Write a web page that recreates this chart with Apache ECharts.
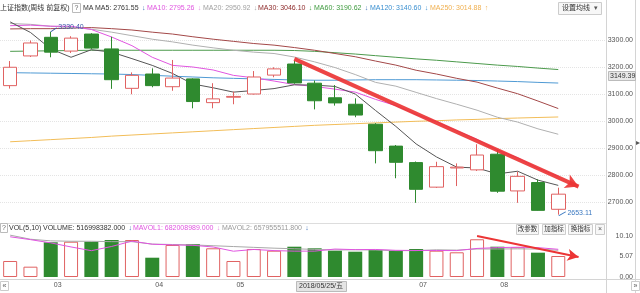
<!DOCTYPE html>
<html><head><meta charset="utf-8">
<script src="https://cdn.jsdelivr.net/npm/echarts@6/dist/echarts.min.js"></script>
<style>html,body{margin:0;padding:0;background:#fff}#c{width:640px;height:293px}</style>
</head><body><div id="c"></div>
<script>
const dates = ['2018/02/14','2018/02/23','2018/03/02','2018/03/09','2018/03/16','2018/03/23','2018/03/30','2018/04/04','2018/04/13','2018/04/20','2018/04/27','2018/05/04','2018/05/11','2018/05/18','2018/05/25','2018/06/01','2018/06/08','2018/06/15','2018/06/22','2018/06/29','2018/07/06','2018/07/13','2018/07/20','2018/07/27','2018/08/03','2018/08/10','2018/08/17','2018/08/24'];
const opens  = [3131,3241,3310,3259,3322,3267,3121,3174,3127,3156,3068,3088,3100,3170,3211,3140,3086,3062,2988,2907,2846,2755,2826,2819,2877,2741,2772,2673];
const closes = [3199,3289,3255,3307,3270,3153,3169,3131,3159,3072,3082,3091,3163,3193,3141,3075,3067,3022,2890,2847,2747,2831,2829,2874,2740,2795,2669,2729];
const lows   = [3120,3237,3236,3252,3266,3119,3099,3125,3112,3047,3047,3062,3098,3162,3138,3043,3057,3014,2843,2788,2697,2752,2759,2815,2734,2697,2668,2653.11];
const highs  = [3222,3298,3330.40,3314,3325,3312,3180,3195,3226,3158,3140,3109,3185,3199,3223,3150,3133,3084,2992,2911,2850,2849,2843,2914,2893,2812,2784,2753];
const ma5   = [3367,3328,3267,3236,3264,3255,3231,3206,3176,3137,3123,3107,3113,3120,3134,3133,3128,3100,3039,2980,2915,2867,2829,2826,2804,2814,2781,2761.55];
const ma10  = [3353,3355,3351,3351,3339,3311,3279,3236,3206,3200,3189,3169,3160,3148,3135,3128,3118,3107,3080,3057,3024,2998,2964,2932,2892,2864,2825,2795.26];
const ma20  = [3361,3358,3351,3347,3340,3329,3316,3303,3293,3281,3271,3262,3255,3250,3237,3219,3198,3172,3143,3129,3106,3083,3062,3040,3014,2996,2971,2950.92];
const ma30  = [3341,3342,3342,3344,3346,3342,3337,3329,3322,3312,3303,3295,3287,3281,3272,3262,3250,3238,3222,3207,3188,3174,3158,3144,3122,3101,3074,3046.10];
const ma60  = [3258,3259,3260,3261,3262,3262,3262,3262,3262,3262,3262,3262,3262,3262,3261,3258,3253,3248,3242,3236,3230,3225,3219,3213,3207,3202,3196,3190.62];
const ma120 = [3179,3178,3177,3176,3175,3174,3172,3169,3166,3163,3160,3158,3156,3154,3152,3151,3151,3152,3153,3153,3153,3152,3151,3150,3148,3146,3143,3140.60];
const ma250 = [2923,2927,2931,2935,2939,2944,2948,2952,2956,2960,2964,2968,2972,2976,2980,2984,2987,2990,2993,2996,2999,3001,3004,3006,3009,3011,3013,3014.88];
const volumes = [3.94,2.54,8.55,8.69,8.69,9.11,9.11,4.75,7.88,8.13,7.07,3.94,6.90,6.48,7.46,7.07,6.48,6.23,6.65,6.40,6.90,6.48,6.08,9.29,7.46,7.32,5.99,5.17];
const mavol1 = [9.9,9.2,8.4,7.4,6.48,7.52,8.83,8.07,7.91,7.80,7.39,6.35,6.78,6.50,6.37,6.37,6.88,6.74,6.78,6.57,6.53,6.53,6.50,7.03,7.24,7.33,7.23,6.82];
const mavol2 = [10.3,9.3,8.9,8.8,8.8,8.7,8.7,8.1,8.0,7.9,7.7,7.5,7.3,7.1,6.95,6.8,6.65,6.7,6.65,6.5,6.5,6.7,6.62,6.9,6.9,6.93,6.88,6.58];
const priceTicks = [2700,2800,2900,3000,3100,3200,3300];
const volTicks = [0,5.07,10.10];
const padCats = ['',' '];

const F = "'Liberation Sans','Noto Sans CJK SC',sans-serif";
const categories = dates.concat(padCats);
const monthStart = new Set();
for (let i = 1; i < dates.length; i++) if (dates[i].slice(5,7) !== dates[i-1].slice(5,7)) monthStart.add(i);

const UP = '#e06262', DOWN = '#2f8a2f';
function maLine(name, data, color) {
  return {name, type:'line', xAxisIndex:0, yAxisIndex:0, data, showSymbol:false, symbol:'none',
    lineStyle:{color, width:1}, z:3, silent:true};
}
function T(x, y, text, fill, size, align) {
  return {type:'text', x, y, z:100, silent:true,
    style:{text, fill, fontSize:size||7, fontFamily:F, verticalAlign:'middle', align:align||'left'}};
}
function R(x, y, w, h, fill, stroke) {
  return {type:'rect', z:99, silent:true, shape:{x, y, width:w, height:h}, style:{fill, stroke, lineWidth:1}};
}
function L(x1, y1, x2, y2, c) {
  return {type:'line', z:98, silent:true, shape:{x1, y1, x2, y2}, style:{stroke:c, lineWidth:1}};
}
function RT(x, y, label, val, arrow, c, ac) {
  return {type:'text', x, y, z:100, silent:true, style:{
    text:'{a|' + label + ': ' + val + '} {b|' + arrow + '}', verticalAlign:'middle',
    rich:{a:{fill:c, fontSize:7, fontFamily:F}, b:{fill:ac, fontSize:7, fontFamily:F}}}};
}

const chart = echarts.init(document.getElementById('c'), null, {renderer:'canvas'});
chart.setOption({
  animation:false,
  textStyle:{fontFamily:F},
  grid:[
    {left:-2, right:31, top:13, height:216},
    {left:-2, right:31, top:224, height:53}
  ],
  xAxis:[
    {type:'category', gridIndex:0, data:categories, show:false},
    {type:'category', gridIndex:1, data:categories,
      axisLine:{show:false}, axisTick:{show:false},
      axisLabel:{interval:0, hideOverlap:false, showMinLabel:true, showMaxLabel:true,
        formatter:(v, i)=> monthStart.has(i) ? v.slice(5,7) : '',
        fontSize:7, color:'#555', margin:5, align:'left', padding:[0,0,0,3]}}
  ],
  yAxis:[
    {type:'value', gridIndex:0, position:'right', min:2600, max:3400, interval:100,
      axisLine:{show:false}, axisTick:{show:false},
      axisLabel:{customValues:priceTicks, formatter:(v)=>v.toFixed(2), fontSize:7, color:'#555', margin:24, align:'right'},
      splitLine:{show:true, showMinLine:false, showMaxLine:false, lineStyle:{color:'#e4e4e4', type:'dotted'}}},
    {type:'value', gridIndex:1, position:'right', min:0, max:13.05,
      axisLine:{show:false}, axisTick:{show:false},
      axisLabel:{customValues:volTicks, formatter:(v)=>v.toFixed(2), fontSize:7, color:'#555', margin:24, align:'right'},
      splitLine:{show:false}}
  ],
  series:[
    maLine('MA250', ma250, '#f2bd58'),
    maLine('MA120', ma120, '#4f9ad4'),
    maLine('MA60', ma60, '#4c9a4c'),
    maLine('MA30', ma30, '#a34848'),
    maLine('MA20', ma20, '#b0b0b0'),
    {type:'candlestick', xAxisIndex:0, yAxisIndex:0, barWidth:14, z:4,
      data: dates.map((d,i)=>[opens[i], closes[i], lows[i], highs[i]]),
      itemStyle:{color:'#ffffff', color0:DOWN, borderColor:UP, borderColor0:DOWN, borderWidth:1},
      markPoint:{silent:true, animation:false,
        data:[
          {type:'max', valueDim:'highest', symbol:'path://M0,4L6,0', symbolSize:[6,4], symbolOffset:[3,-2],
            itemStyle:{color:'rgba(0,0,0,0)', borderColor:'#3b5ea8', borderWidth:1},
            label:{show:true, position:'right', distance:1, offset:[0,-3], formatter:(p)=>p.value.toFixed(2), color:'#3b5ea8', fontSize:7}},
          {type:'min', valueDim:'lowest', symbol:'path://M0,4L6,0', symbolSize:[7,4], symbolOffset:[4,-1],
            itemStyle:{color:'rgba(0,0,0,0)', borderColor:'#3a78c0', borderWidth:1},
            label:{show:true, position:'right', distance:1, offset:[0,-1], formatter:(p)=>p.value.toFixed(2), color:'#3a78c0', fontSize:7}}
        ]},
      markLine:{silent:true, animation:false, symbol:['none','arrow'], symbolSize:[11,13],
        label:{show:false}, lineStyle:{color:'#ec3535', width:4, type:'solid', opacity:0.92},
        data:[[{coord:[14,3230]},{coord:[28,2757]}]]}
    },
    maLine('MA10', ma10, '#e055e0'),
    maLine('MA5', ma5, '#555555'),
    {type:'bar', xAxisIndex:1, yAxisIndex:1, barWidth:14, z:2,
      data: volumes.map((v,i)=>({value:v, itemStyle: closes[i] >= opens[i]
        ? {color:'#ffffff', borderColor:UP, borderWidth:1}
        : {color:DOWN, borderColor:DOWN, borderWidth:0}})),
      markLine:{silent:true, animation:false, symbol:['none','arrow'], symbolSize:[9,11],
        label:{show:false}, lineStyle:{color:'#ec3535', width:2, type:'solid'},
        data:[[{coord:[23,10.1]},{coord:[28,4.9]}]]}
    },
    {type:'line', xAxisIndex:1, yAxisIndex:1, data:mavol2, showSymbol:false, symbol:'none', lineStyle:{color:'#a8a8a8', width:1}, z:3},
    {type:'line', xAxisIndex:1, yAxisIndex:1, data:mavol1, showSymbol:false, symbol:'none', lineStyle:{color:'#e055e0', width:1}, z:3}
  ],
  graphic:[
    L(606.5,0,606.5,293,'#d4d4d4'),
    L(635.5,0,635.5,293,'#d4d4d4'),
    L(0,223.5,606,223.5,'#dddddd'),
    L(0,279.5,640,279.5,'#d4d4d4'),
    T(0,8,'上证指数(周线 前复权)','#333'),
    R(72.5,3.5,8,9,'#fff','#bbb'), T(76.5,8,'?','#666',7,'center'),
    T(83,8,'MA','#333'),
    RT(95,8,'MA5','2761.55','↓','#333','#3d6fb6'),
    RT(147,8,'MA10','2795.26','↓','#e055e0','#e08fe0'),
    RT(203,8,'MA20','2950.92','↓','#a0a0a0','#a0a0a0'),
    RT(258,8,'MA30','3046.10','↓','#8e2b2b','#3d9a3d'),
    RT(314,8,'MA60','3190.62','↓','#3d9a3d','#3d6fb6'),
    RT(370,8,'MA120','3140.60','↓','#3a8fd0','#3a8fd0'),
    RT(430,8,'MA250','3014.88','↑','#f0b050','#f0b050'),
    R(558.5,2.5,43,12,'#f7f7f7','#cccccc'), T(562,8.5,'设置均线','#333',7), T(596,8.5,'▾','#555',7,'center'),
    R(0.5,223.5,7,9,'#fff','#bbb'), T(4,228,'?','#666',7,'center'),
    T(9,228,'VOL(5,10)','#333'),
    {type:'text', x:43, y:228, z:100, silent:true, style:{text:'{a|VOLUME: 516998382.000} {b|↓}', verticalAlign:'middle',
      rich:{a:{fill:'#333',fontSize:7,fontFamily:F}, b:{fill:'#3d6fb6',fontSize:7,fontFamily:F}}}},
    {type:'text', x:133, y:228, z:100, silent:true, style:{text:'{a|MAVOL1: 682008989.000} {b|↓}', verticalAlign:'middle',
      rich:{a:{fill:'#e055e0',fontSize:7,fontFamily:F}, b:{fill:'#e08fe0',fontSize:7,fontFamily:F}}}},
    {type:'text', x:222, y:228, z:100, silent:true, style:{text:'{a|MAVOL2: 657955511.800} {b|↓}', verticalAlign:'middle',
      rich:{a:{fill:'#999',fontSize:7,fontFamily:F}, b:{fill:'#3d6fb6',fontSize:7,fontFamily:F}}}},
    R(516.5,224.5,22,10,'#f7f7f7','#cccccc'), T(527.5,229.5,'改参数','#333',6.5,'center'),
    R(542.5,224.5,23,10,'#f7f7f7','#cccccc'), T(554,229.5,'加指标','#333',6.5,'center'),
    R(568.5,224.5,24,10,'#f7f7f7','#cccccc'), T(580.5,229.5,'换指标','#333',6.5,'center'),
    R(595.5,224.5,9,10,'#f7f7f7','#cccccc'), T(600,229.5,'×','#555',7,'center'),
    R(296.5,281.5,50,10,'#e4e4e4','#bbbbbb'), T(299,286.5,'2018/05/25/五','#333',7),
    R(608.5,71.5,27,9,'#e8e8e8','#bbbbbb'), T(610,76,'3149.39','#333',7),
    R(0.5,281.5,8,9,'#fff','#cccccc'), T(4.5,286,'«','#555',7,'center'),
    R(631.5,281.5,8,9,'#fff','#cccccc'), T(635.5,286,'»','#555',7,'center'),
    T(636,143,'▸','#555',8)
  ]
});
</script></body></html>
